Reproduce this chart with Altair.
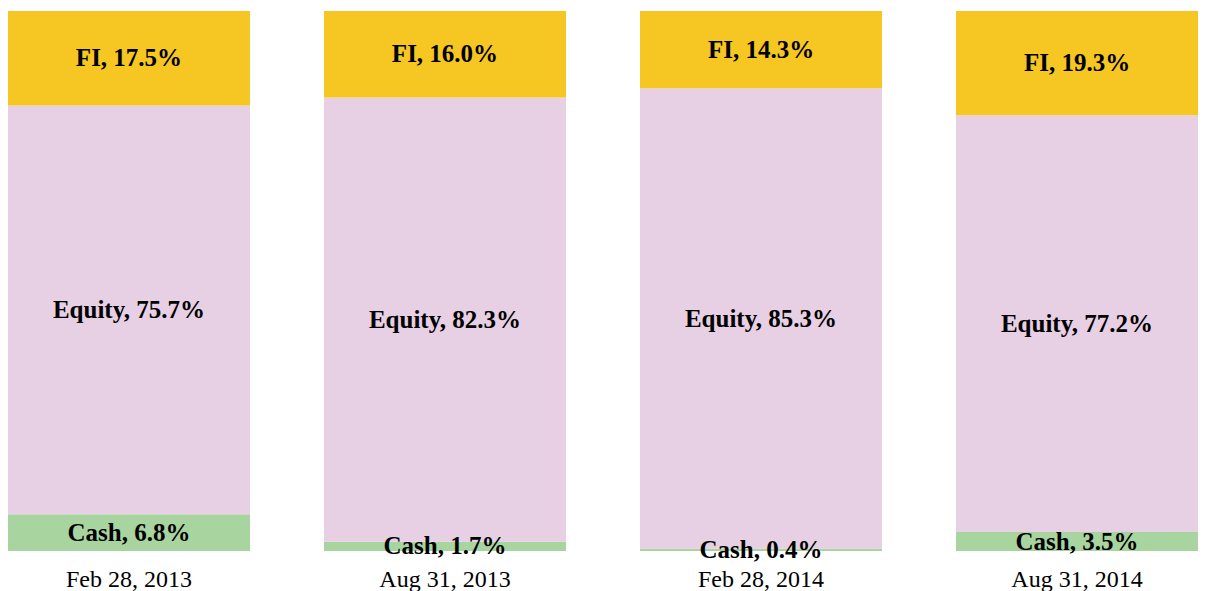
import altair as alt
import pandas as pd

dates = ["Feb 28, 2013", "Aug 31, 2013", "Feb 28, 2014", "Aug 31, 2014"]
categories = ["Cash", "Equity", "FI"]
cash = [6.8, 1.7, 0.4, 3.5]
equity = [75.7, 82.3, 85.3, 77.2]
fi = [17.5, 16.0, 14.3, 19.3]
colors = ["#A8D49F", "#E7CFE4", "#F6C622"]

series = [cash, equity, fi]
rows = []
for i, d in enumerate(dates):
    for j, cat in enumerate(categories):
        v = series[j][i]
        rows.append({"date": d, "cat": cat, "ord": j, "value": v,
                     "label": f"{cat}, {v:.1f}%"})
df = pd.DataFrame(rows)

base = alt.Chart(df).transform_stack(
    stack="value", groupby=["date"], as_=["y0", "y1"],
    sort=[alt.SortField("ord", order="ascending")]
).transform_calculate(mid="(datum.y0 + datum.y1) / 2")

x = alt.X("date:N", sort=dates,
          scale=alt.Scale(paddingInner=0.2342, paddingOuter=0),
          axis=alt.Axis(title=None, domain=False, ticks=False, tickSize=0, grid=False,
                        labelPadding=16, labelFont="Liberation Serif",
                        labelFontSize=24, labelColor="black", labelAngle=0))
yscale = alt.Scale(domain=[0, 100], nice=False)

bars = base.mark_bar().encode(
    x=x,
    y=alt.Y("y0:Q", scale=yscale, axis=None),
    y2="y1:Q",
    color=alt.Color("cat:N", scale=alt.Scale(domain=categories, range=colors), legend=None),
)

texts = base.mark_text(font="Liberation Serif", fontSize=25, fontWeight="bold",
                       color="black", baseline="middle").encode(
    x=x,
    y=alt.Y("mid:Q", scale=yscale, axis=None),
    text="label:N",
)

chart = (bars + texts).properties(
    width=1190, height=540,
    background="white",
    padding={"left": 0, "top": 3, "right": 0, "bottom": 40},
    autosize=alt.AutoSizeParams(type="none"),
).configure_view(stroke="transparent", strokeWidth=0).configure_axis(
    grid=False, domain=False
)

chart.save("out.html", embed_options={"renderer": "svg", "actions": False})
